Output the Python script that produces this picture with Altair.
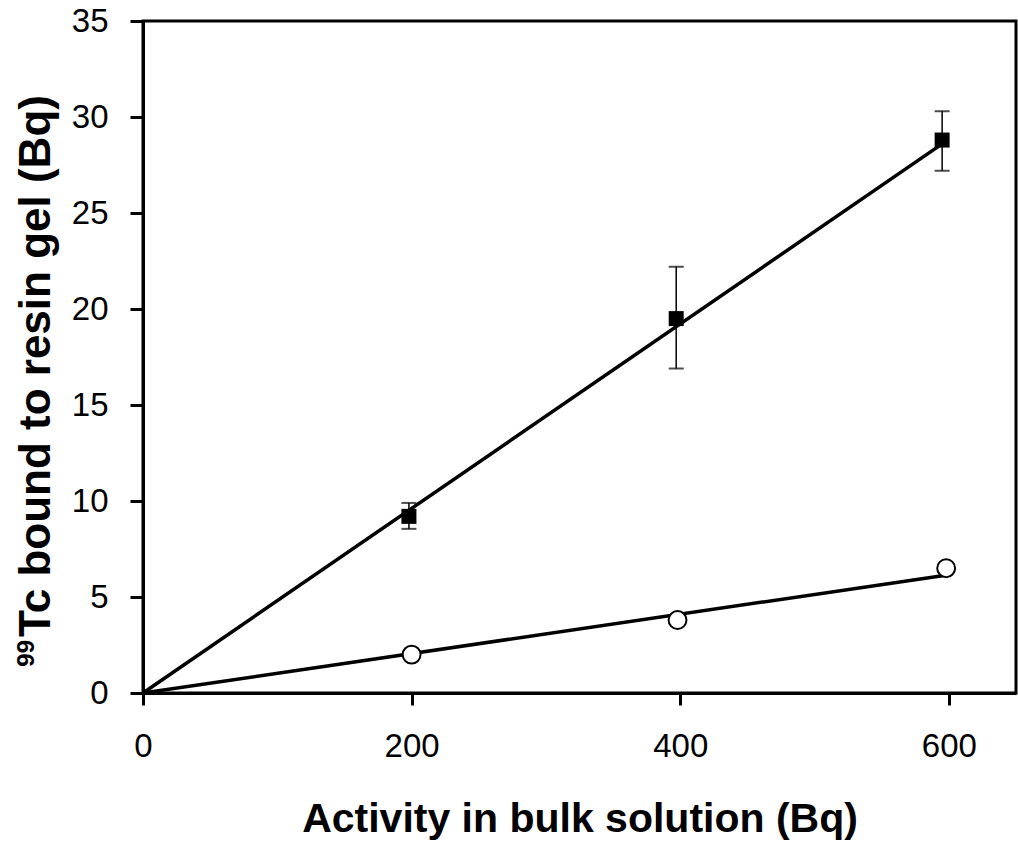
import altair as alt
import pandas as pd

# Filled squares (with error bars)
sq_x = [198, 397, 595]
sq_y = [9.2, 19.5, 28.8]
sq_lo = [8.55, 16.9, 27.2]
sq_hi = [9.9, 22.2, 30.3]

# Open circles
ci_x = [200, 398, 598]
ci_y = [2.0, 3.8, 6.5]

# Fitted lines through origin
fit_hi_x = [0, 595]
fit_hi_y = [0, 28.6]
fit_lo_x = [0, 599]
fit_lo_y = [0, 6.15]

x_ticks = [0, 200, 400, 600]
y_ticks = [0, 5, 10, 15, 20, 25, 30, 35]

x_title = "Activity in bulk solution (Bq)"
y_title_main = ["Tc bound to resin gel (Bq)"]
y_title_sup = ["99"]

FONT = "Liberation Sans"

sq = pd.DataFrame({"x": sq_x, "y": sq_y, "lo": sq_lo, "hi": sq_hi})
ci = pd.DataFrame({"x": ci_x, "y": ci_y})
fit = pd.DataFrame({
    "x": fit_hi_x + fit_lo_x,
    "y": fit_hi_y + fit_lo_y,
    "s": ["hi", "hi", "lo", "lo"],
})

xs = alt.Scale(domain=[0, 650], nice=False, zero=False)
ys = alt.Scale(domain=[0, 35], nice=False, zero=False)

x_axis = alt.Axis(
    title=x_title,
    values=x_ticks, format="d", grid=False, labelFlush=False,
    tickSize=12, labelPadding=25, titlePadding=36,
    labelFontSize=33, titleFontSize=41,
)
y_axis = alt.Axis(
    title=None,
    values=y_ticks, format="d", grid=False, labelFlush=False,
    tickSize=13, labelPadding=22, labelFontSize=33,
)

lines = alt.Chart(fit).mark_line(color="black", strokeWidth=3.5).encode(
    x=alt.X("x:Q", scale=xs, axis=x_axis),
    y=alt.Y("y:Q", scale=ys, axis=y_axis),
    detail="s:N",
)

err = alt.Chart(sq).mark_rule(color="black", strokeWidth=1.5).encode(
    x=alt.X("x:Q", scale=xs), y=alt.Y("lo:Q", scale=ys), y2="hi:Q"
)
cap_lo = alt.Chart(sq).mark_tick(color="black", thickness=2, size=15, orient="horizontal").encode(
    x=alt.X("x:Q", scale=xs), y=alt.Y("lo:Q", scale=ys)
)
cap_hi = alt.Chart(sq).mark_tick(color="black", thickness=2, size=15, orient="horizontal").encode(
    x=alt.X("x:Q", scale=xs), y=alt.Y("hi:Q", scale=ys)
)

squares = alt.Chart(sq).mark_point(
    shape="square", filled=True, color="black", size=225, opacity=1
).encode(x=alt.X("x:Q", scale=xs), y=alt.Y("y:Q", scale=ys))

circles = alt.Chart(ci).mark_point(
    shape="circle", filled=True, fill="white", stroke="black", strokeWidth=2, size=320, opacity=1
).encode(x=alt.X("x:Q", scale=xs), y=alt.Y("y:Q", scale=ys))

ytitle = alt.Chart(pd.DataFrame({"t": y_title_main})).mark_text(
    angle=270, align="center", baseline="alphabetic",
    font=FONT, fontSize=44, fontWeight="bold", color="black",
).encode(text="t:N", x=alt.value(-93), y=alt.value(345))

ysup = alt.Chart(pd.DataFrame({"t": y_title_sup})).mark_text(
    angle=270, align="right", baseline="alphabetic",
    font=FONT, fontSize=24, fontWeight="bold", color="black",
).encode(text="t:N", x=alt.value(-109), y=alt.value(619))

chart = alt.layer(lines, err, cap_lo, cap_hi, squares, circles, ytitle, ysup).properties(
    width=873, height=672,
    autosize=alt.AutoSizeParams(type="none"),
    padding={"left": 143, "top": 21, "right": 2, "bottom": 161},
    background="white",
).configure_view(
    stroke="black", strokeWidth=3
).configure_axis(
    domainColor="black", domainWidth=3, tickColor="black", tickWidth=3,
    labelFont=FONT, labelColor="black",
    titleFont=FONT, titleFontWeight="bold", titleColor="black",
)

chart.save("out.html", embed_options={"renderer": "svg", "actions": False})
